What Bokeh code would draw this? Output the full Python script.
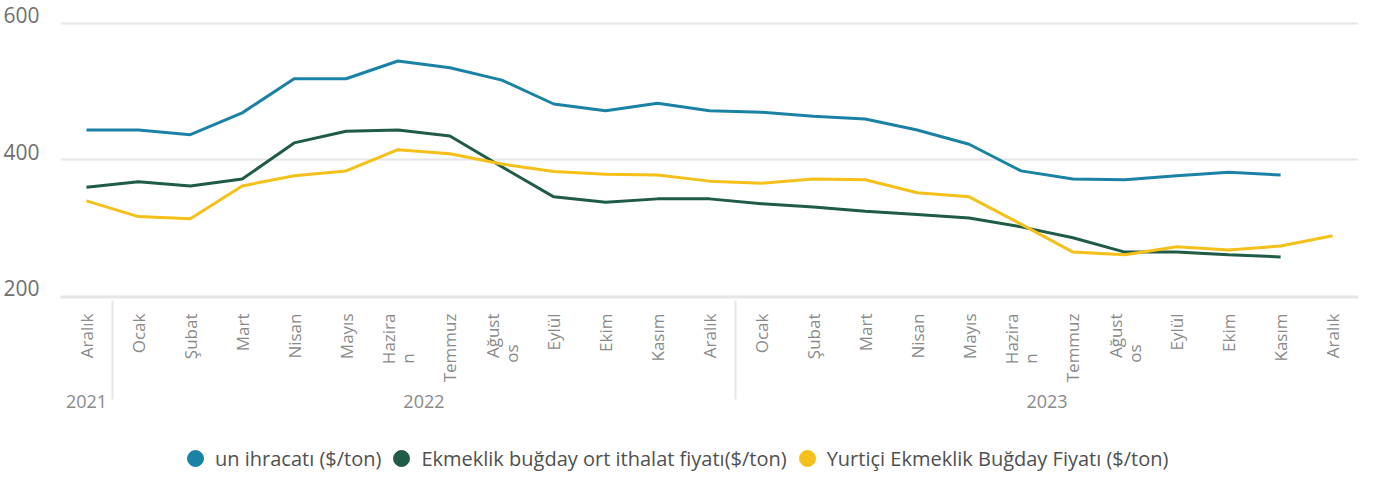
import math
from bokeh.plotting import figure
from bokeh.layouts import column
from bokeh.models import (ColumnDataSource, FactorRange, Range1d, FixedTicker,
                          Legend, LegendItem)
from bokeh.embed import file_html
from bokeh.resources import INLINE

# ---- data ----
NB = "\u00a0"
years = ["2021"] + ["2022"] * 12 + ["2023"] * 12
months = ["Aralık",
          "Ocak", "Şubat", "Mart", "Nisan", "Mayıs", "Hazira\nn" + NB * 9,
          "Temmuz", "Ağust\nos" + NB * 7, "Eylül", "Ekim", "Kasım", "Aralık",
          "Ocak", "Şubat", "Mart", "Nisan", "Mayıs", "Hazira\nn" + NB * 9,
          "Temmuz", "Ağust\nos" + NB * 7, "Eylül", "Ekim", "Kasım", "Aralık"]

un_ihracati = [444, 444, 437, 469, 519, 519, 545, 535, 517, 482, 472, 483,
               472, 470, 464, 460, 444, 423, 384, 372, 371, 377, 382, 378, None]
ithalat = [360, 368, 362, 372, 425, 442, 444, 435, 390, 346, 338, 343,
           343, 336, 331, 325, 320, 315, 302, 286, 265, 265, 261, 258, None]
yurtici = [340, 317, 314, 362, 377, 384, 415, 409, 394, 383, 379, 378,
           369, 366, 372, 371, 352, 346, 306, 265, 261, 273, 268, 274, 289]

y_ticks = [200, 400, 600]

series_names = ["un ihracatı ($/ton)",
                "Ekmeklik buğday ort ithalat fiyatı($/ton)",
                "Yurtiçi Ekmeklik Buğday Fiyatı ($/ton)"]
colors = ["#1B82A5", "#1F5B45", "#F4C019"]

factors = list(zip(years, months))

def clean(vals):
    return [float("nan") if v is None else v for v in vals]

src = ColumnDataSource(dict(x=factors,
                            a=clean(un_ihracati),
                            b=clean(ithalat),
                            c=clean(yurtici)))

x_range = FactorRange(*factors, factor_padding=0, group_padding=0,
                      subgroup_padding=0, range_padding=0)

p = figure(width=1360, height=440, x_range=x_range,
           y_range=Range1d(198.5, 614.6),
           output_backend="svg", toolbar_location=None,
           min_border_left=50, min_border_right=2, min_border_top=13,
           min_border_bottom=143)
p.outline_line_color = None
p.background_fill_color = "white"

# grid
p.xgrid.grid_line_color = None
p.ygrid.grid_line_color = "#E6E6E6"
p.ygrid.grid_line_width = 2
p.yaxis.ticker = FixedTicker(ticks=y_ticks)

# y axis (labels sit just above their grid lines)
p.yaxis.axis_line_color = None
p.yaxis.major_tick_line_color = None
p.yaxis.minor_tick_line_color = None
p.yaxis.major_label_text_font = "Open Sans"
p.yaxis.major_label_text_font_size = "21px"
p.yaxis.major_label_text_color = "#707070"
p.yaxis.major_label_text_line_height = 0.6
p.yaxis.major_label_overrides = {t: f"{t}\n{NB}" for t in y_ticks}
p.yaxis.major_label_standoff = 15

# x axis
xa = p.xaxis[0]
xa.axis_line_color = "#E6E6E6"
xa.axis_line_width = 2
xa.major_tick_line_color = None
xa.minor_tick_line_color = None
xa.major_label_orientation = math.pi / 2
xa.major_label_text_font = "Open Sans"
xa.major_label_text_font_size = "17px"
xa.major_label_text_color = "#8A8A8A"
xa.major_label_text_line_height = 0.85
xa.major_label_standoff = 10
xa.group_text_font = "Open Sans"
xa.group_text_font_size = "18px"
xa.group_text_font_style = "normal"
xa.group_text_color = "#8A8A8A"
xa.separator_line_color = "#E6E6E6"
xa.separator_line_width = 2

for col, color in zip(["a", "b", "c"], colors):
    p.line("x", col, source=src, line_color=color, line_width=3)

# ---- legend strip ----
lg = figure(width=1360, height=36, x_range=Range1d(0, 1), y_range=Range1d(0, 1),
            output_backend="svg", toolbar_location=None,
            min_border_left=0, min_border_right=0, min_border_top=0,
            min_border_bottom=0)
lg.outline_line_color = None
lg.axis.visible = False
lg.grid.visible = False

items = []
for name, color in zip(series_names, colors):
    # a point outside the visible range, only used by the legend swatch
    r = lg.scatter([-10], [-10], marker="circle", size=16, fill_color=color,
                   line_color=color)
    items.append(LegendItem(label=name, renderers=[r]))

legend = Legend(items=items, orientation="horizontal",
                location=(115, -2),
                glyph_width=40, glyph_height=40,
                label_standoff=0, spacing=0, padding=0, margin=0,
                border_line_color=None, background_fill_alpha=0,
                label_text_font="Open Sans", label_text_font_size="20px",
                label_text_color="#505050")
lg.add_layout(legend)

open("out.html", "w").write(file_html(column(p, lg), INLINE))
